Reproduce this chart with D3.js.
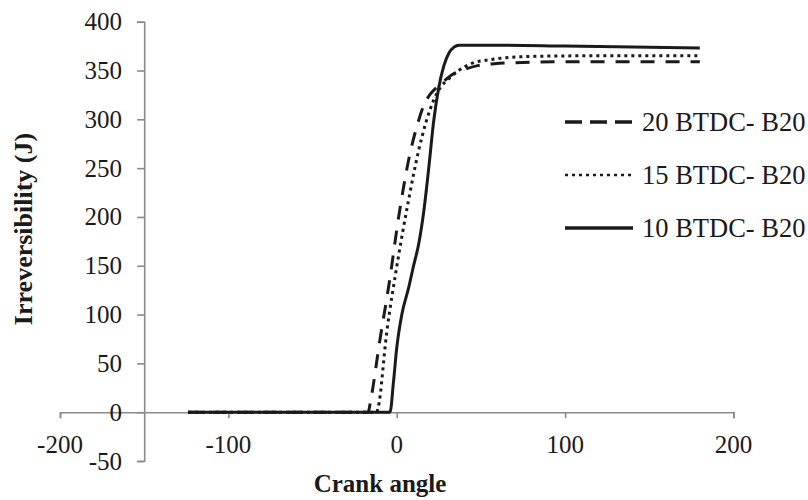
<!DOCTYPE html>
<html>
<head>
<meta charset="utf-8">
<script src="https://cdn.jsdelivr.net/npm/d3@7/dist/d3.min.js"></script>
<style>
  html, body { margin: 0; padding: 0; background: #fff; }
  svg { display: block; }
  text { font-family: "Liberation Serif", "Times New Roman", serif; fill: #1a1a1a; }
</style>
</head>
<body>
<svg id="chart" width="808" height="500"></svg>
<script>
// ---- data ----
const seriesNames = ["20 BTDC- B20", "15 BTDC- B20", "10 BTDC- B20"];

const x20 = [-124, -50, -17, -15.5, -10, -4.5, 1.5, 7.5, 12, 16, 20, 24, 28, 33, 40, 48, 58, 70, 100, 140, 180];
const y20 = [0, 0, 0, 12, 74, 132, 204, 262, 293, 314, 326, 333, 339, 346, 351, 355, 357, 358, 359, 359, 359];

const x15 = [-124, -50, -14, -12, -11, -6, 0, 7, 13, 22, 26, 30, 36, 44, 55, 73, 105, 140, 180];
const y15 = [0, 0, 0, 0, 5, 81, 149, 217, 268, 320, 333, 340, 349, 357, 361, 364, 365, 365, 365];

const x10 = [-124, -100, -50, -20, -5, -4, -2, 0, 3, 7, 10, 13, 16, 19, 22, 25, 28, 31, 34, 37, 40, 60, 100, 140, 180];
const y10 = [0, 0, 0, 0, 0, 0, 30, 66, 100, 127, 150, 172, 205, 250, 299, 333, 355, 368, 374, 376, 376, 376, 375, 374, 373];

const xTicks = [-200, -100, 0, 100, 200];
const yTicks = [-50, 0, 50, 100, 150, 200, 250, 300, 350, 400];

// ---- layout ----
const svg = d3.select("#chart");
const x = d3.scaleLinear().domain([-200, 200]).range([60, 733.5]);
const y = d3.scaleLinear().domain([-50, 400]).range([461, 21.7]);
const axisColor = "#8a8a8a";
const lineColor = "#1a1a1a";

// x axis (crosses at y = 0)
const xAxis = d3.axisBottom(x).tickValues(xTicks).tickSize(6).tickFormat("");
const gx = svg.append("g").attr("transform", `translate(0,${y(0)})`).call(xAxis);
gx.select(".domain").attr("stroke", axisColor).attr("stroke-width", 1.6);
gx.selectAll(".tick line").attr("stroke", axisColor).attr("stroke-width", 1.6);

// y axis (crosses at x = -150)
const yAxis = d3.axisLeft(y).tickValues(yTicks).tickSize(7).tickFormat("");
const gy = svg.append("g").attr("transform", `translate(${x(-150)},0)`).call(yAxis);
gy.select(".domain").attr("stroke", axisColor).attr("stroke-width", 1.6);
gy.selectAll(".tick line").attr("stroke", axisColor).attr("stroke-width", 1.6);

// tick labels
svg.append("g").selectAll("text").data(yTicks).join("text")
  .attr("x", 122).attr("y", d => y(d) + 8.5)
  .attr("text-anchor", "end").attr("font-size", 25)
  .text(d => d);

svg.append("g").selectAll("text").data(xTicks).join("text")
  .attr("x", d => x(d)).attr("y", 453)
  .attr("text-anchor", "middle").attr("font-size", 25)
  .text(d => d);

// axis titles
svg.append("text")
  .attr("transform", "translate(32,229) rotate(-90)")
  .attr("text-anchor", "middle").attr("font-size", 26).attr("font-weight", "bold")
  .text("Irreversibility (J)");
svg.append("text")
  .attr("x", 380).attr("y", 492)
  .attr("text-anchor", "middle").attr("font-size", 25).attr("font-weight", "bold")
  .text("Crank angle");

// series
const series = [
  { name: seriesNames[0], xs: x20, ys: y20, dash: "14,11" },
  { name: seriesNames[1], xs: x15, ys: y15, dash: "3,4" },
  { name: seriesNames[2], xs: x10, ys: y10, dash: null }
];

const line = d3.line().x(d => x(d[0])).y(d => y(d[1])).curve(d3.curveMonotoneX);

series.forEach(s => {
  const pts = s.xs.map((v, i) => [v, s.ys[i]]);
  svg.append("path").datum(pts)
    .attr("d", line)
    .attr("fill", "none")
    .attr("stroke", lineColor)
    .attr("stroke-width", 3)
    .attr("stroke-dasharray", s.dash);
});

// legend
const legendY = [122, 175, 228];
const lg = svg.append("g");
series.forEach((s, i) => {
  lg.append("line")
    .attr("x1", 565).attr("x2", 633)
    .attr("y1", legendY[i]).attr("y2", legendY[i])
    .attr("stroke", lineColor).attr("stroke-width", s.dash === "3,4" ? 2.5 : 3.5)
    .attr("stroke-dasharray", s.dash === "14,11" ? "17,8" : s.dash);
  lg.append("text")
    .attr("x", 642).attr("y", legendY[i] + 9)
    .attr("font-size", 26.5)
    .text(s.name);
});
</script>
</body>
</html>
